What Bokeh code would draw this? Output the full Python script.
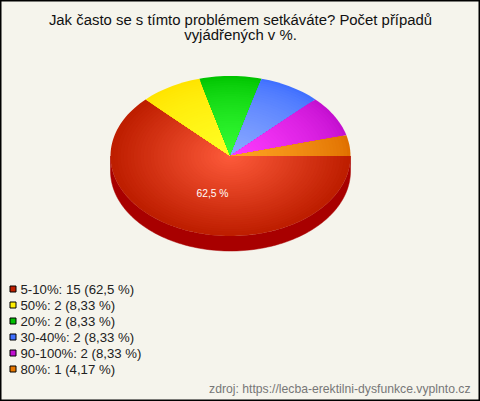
import math
from bokeh.plotting import figure
from bokeh.embed import file_html
from bokeh.resources import INLINE
from bokeh.core.properties import value

title_lines = ["Jak často se s tímto problémem setkáváte? Počet případů", "vyjádřených v %."]
categories = ["5-10%", "50%", "20%", "30-40%", "90-100%", "80%"]
counts = [15, 2, 2, 2, 2, 1]
percent_labels = ["62,5", "8,33", "8,33", "8,33", "8,33", "4,17"]
inner_colors = [(255, 92, 60), (255, 255, 36), (56, 255, 56), (140, 170, 255), (255, 60, 255), (255, 165, 35)]
outer_colors = [(190, 30, 0), (255, 228, 0), (0, 196, 0), (64, 112, 255), (196, 16, 208), (224, 112, 0)]
legend_colors = ["#c02000", "#ffee00", "#00c000", "#4070ff", "#c010d0", "#e87800"]
side_color = "#a80000"
footer = "zdroj: https://lecba-erektilni-dysfunkce.vyplnto.cz"
BG = "#f5f4ec"

W, H = 480, 401
CX, CY, RX, RY, DEPTH = 230, 155.5, 120, 80, 15
RINGS = 36

p = figure(width=W, height=H, output_backend="svg", toolbar_location=None,
           x_range=(0, W), y_range=(H, 0), min_border=0,
           background_fill_color=BG, border_fill_color=BG,
           outline_line_color="#000000", outline_line_width=2)
p.axis.visible = False
p.grid.visible = False

def sector(a0, a1, scale):
    n = max(2, int(abs(a1 - a0) / 2))
    xs, ys = [CX], [CY]
    for i in range(n + 1):
        a = math.radians(a0 + (a1 - a0) * i / n)
        xs.append(CX + RX * scale * math.cos(a))
        ys.append(CY + RY * scale * math.sin(a))
    return xs, ys

# extruded side of the pie (front half only)
n = 120
top = [(CX + RX * math.cos(math.pi * i / n), CY + RY * math.sin(math.pi * i / n)) for i in range(n + 1)]
sx = [t[0] for t in top] + [t[0] for t in reversed(top)]
sy = [t[1] + DEPTH for t in top] + [t[1] for t in reversed(top)]
p.patch(sx, sy, fill_color=side_color, line_color=side_color, line_width=0.5)

total = sum(counts)
angle = 0.0
for idx, (c, inner, outer) in enumerate(zip(counts, inner_colors, outer_colors)):
    a1 = angle + 360.0 * c / total
    xs, ys, cols = [], [], []
    for k in range(RINGS):
        s = 1 - k / RINGS
        t = (1 - s) if idx == 0 else (1 - s) ** 0.7
        col = tuple(int(outer[j] + (inner[j] - outer[j]) * t) for j in range(3))
        x, y = sector(angle, a1, s)
        xs.append(x); ys.append(y)
        cols.append("#%02x%02x%02x" % col)
    p.patches(xs, ys, fill_color=cols, line_color=None)
    angle = a1

# value label of the large slice
p.text([212], [193], text=[percent_labels[0] + " %"], text_color="#ffffff",
       text_font=value("Liberation Sans"), text_font_size="10.3px",
       text_align="center", text_baseline="middle")

# title
p.text([240, 240], [19, 34], text=title_lines, text_color="#111111",
       text_font=value("Liberation Sans"), text_font_size="14.9px",
       text_align="center", text_baseline="alphabetic")

# legend
rows = [288.5 + 16 * i for i in range(len(categories))]
labels = [f"{a}: {b} ({c} %)" for a, b, c in zip(categories, counts, percent_labels)]
p.rect([12.5] * len(rows), rows, width=6, height=6, fill_color=legend_colors,
       line_color="#000000", line_width=1, line_join="miter")
p.text([20] * len(rows), rows, text=labels, text_color="#222222",
       text_font=value("Liberation Sans"), text_font_size="13.2px",
       text_align="left", text_baseline="alphabetic")

# footer
p.text([470], [388], text=[footer], text_color="#777777",
       text_font=value("Liberation Sans"), text_font_size="12.2px",
       text_align="right", text_baseline="alphabetic")

open("out.html", "w").write(file_html(p, INLINE))
